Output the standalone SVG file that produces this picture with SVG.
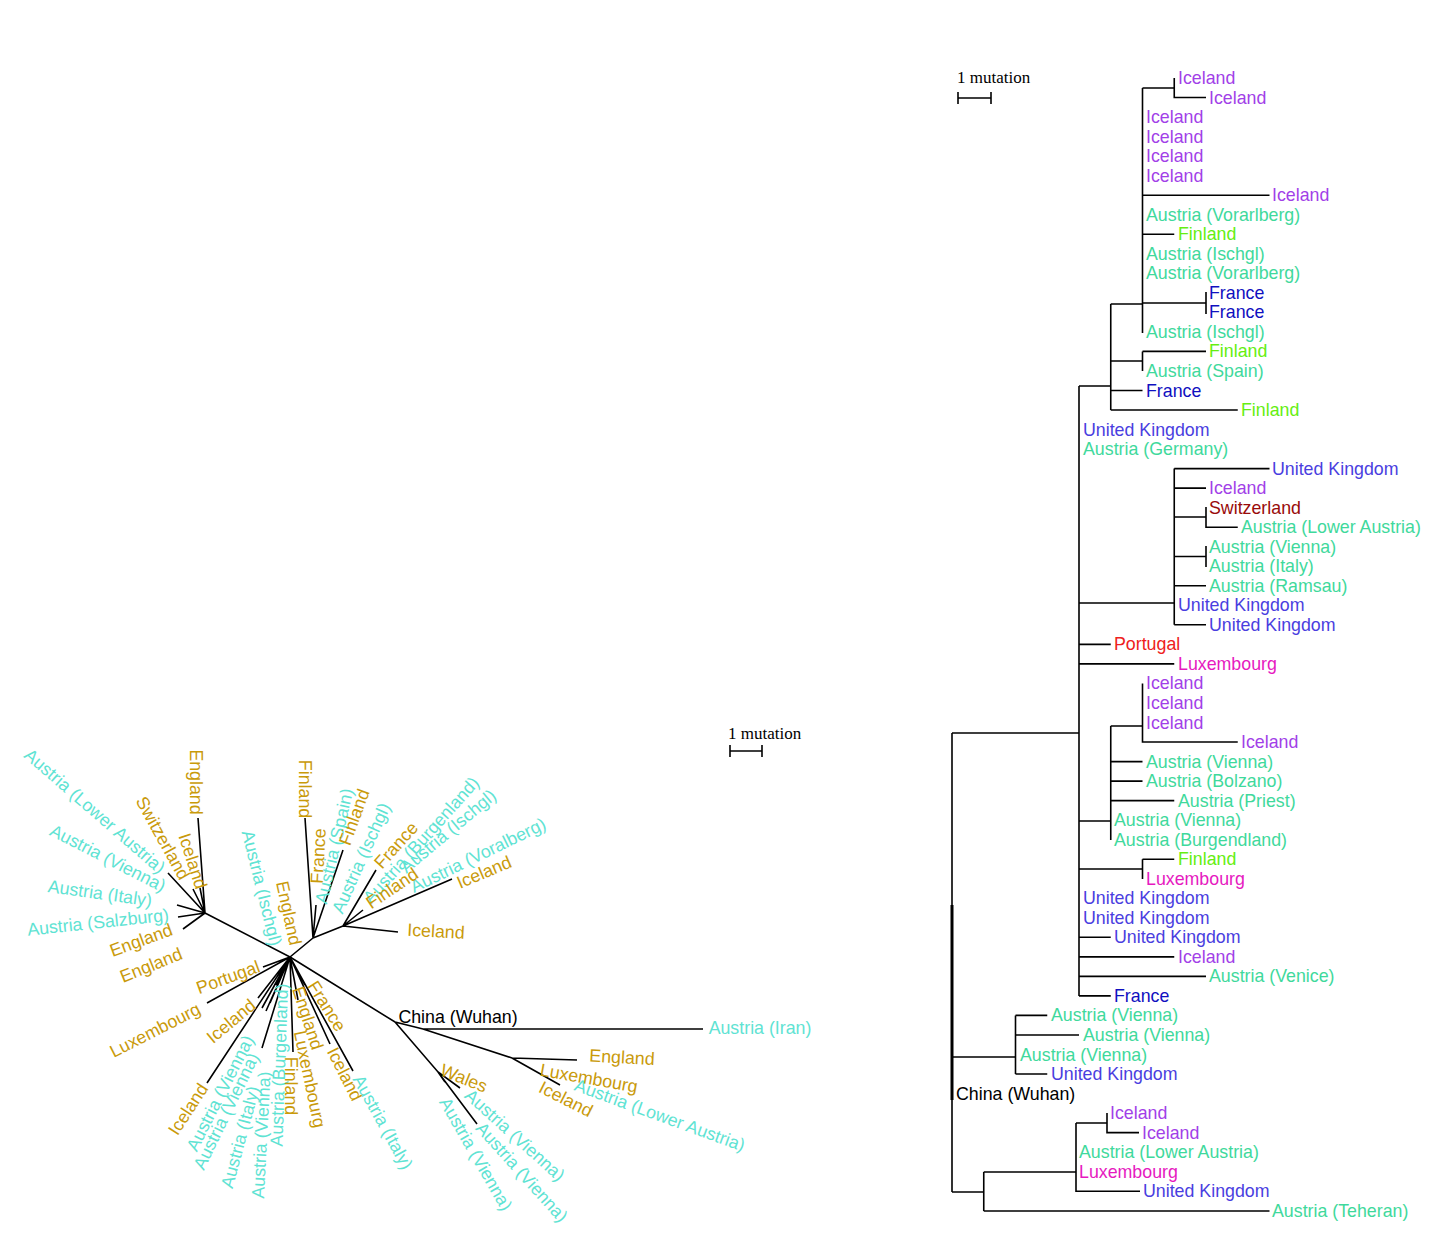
<svg xmlns="http://www.w3.org/2000/svg" width="1440" height="1250" viewBox="0 0 1440 1250">
<style>
text{font-family:"Liberation Sans",Arial,sans-serif;font-size:17.8px}
.sc{font-family:"Liberation Serif","Times New Roman",serif;font-size:17px;fill:#000}
.g{fill:#c99a0a}.c{fill:#5fe3d3}.k{fill:#000}
.pu{fill:#a23fe8}.te{fill:#3fd99c}.fi{fill:#66ee11}.fr{fill:#1010c0}.uk{fill:#4a3ee0}.sw{fill:#990a0a}.po{fill:#ee2020}.lu{fill:#e619c0}
.ln{stroke:#000;stroke-width:1.6;fill:none}
.ul text{text-anchor:middle}
</style>
<rect width="1440" height="1250" fill="#fff"/>
<g id="scale-left">
<text class="sc" x="728" y="739">1 mutation</text>
<path class="ln" d="M730,751H762M730,745V757M762,745V757"/>
</g>
<g id="scale-right">
<text class="sc" x="957" y="83">1 mutation</text>
<path class="ln" d="M958,98H991M958,92V104M991,92V104"/>
</g>
<g id="connectors-left">
<path class="ln" d="M290,957L205,913M205,913L198,818M205,913L200,888M205,913L168,873M205,913L193,889M205,913L177,905M205,913L178,917M205,913L183,929"/>
<path class="ln" d="M290,957L313,938M313,938L305,818M313,938L316,905M313,938L343,850M313,938L343,926M343,926L376,870M343,926L363,910M343,926L452,879M343,926L398,932"/>
<path class="ln" d="M290,957L263,967M290,957L207,1003M290,957L258,998M290,957L207,1083M290,957L266,1011M290,957L262,1008M290,957L262,1048M290,957L270,1003M290,957L276,985M290,957L293,1052M290,957L305,985M290,957L298,1000M290,957L330,1044M290,957L353,1071"/>
<path class="ln" d="M290,957L395,1022L423,1029H703M423,1029L512,1058L577,1060M512,1058L560,1085M395,1022L438,1072L460,1088M438,1072L477,1124M438,1072L445,1082"/>
</g>
<g id="labels-left" class="ul">
<text class="c" dy="0.35em" transform="translate(95,811) rotate(41)">Austria (Lower Austria)</text>
<text class="g" dy="0.35em" transform="translate(163,838) rotate(61)">Switzerland</text>
<text class="g" dy="0.35em" transform="translate(196,782) rotate(90)">England</text>
<text class="g" dy="0.35em" transform="translate(193,861) rotate(72)">Iceland</text>
<text class="c" dy="0.35em" transform="translate(108,858) rotate(27)">Austria (Vienna)</text>
<text class="c" dy="0.35em" transform="translate(100,893) rotate(8)">Austria (Italy)</text>
<text class="c" dy="0.35em" transform="translate(98,922) rotate(-6)">Austria (Salzburg)</text>
<text class="g" dy="0.35em" transform="translate(141,940) rotate(-20)">England</text>
<text class="g" dy="0.35em" transform="translate(151,965) rotate(-22)">England</text>
<text class="c" dy="0.35em" transform="translate(262,888) rotate(76)">Austria (Ischgl)</text>
<text class="g" dy="0.35em" transform="translate(289,913) rotate(78)">England</text>
<text class="g" dy="0.35em" transform="translate(305,789) rotate(90)">Finland</text>
<text class="g" dy="0.35em" transform="translate(318,856) rotate(-87)">France</text>
<text class="c" dy="0.35em" transform="translate(334,846) rotate(-77)">Austria (Spain)</text>
<text class="g" dy="0.35em" transform="translate(354,817) rotate(-70)">Finland</text>
<text class="c" dy="0.35em" transform="translate(361,858) rotate(-66)">Austria (Ischgl)</text>
<text class="g" dy="0.35em" transform="translate(396,845) rotate(-48)">France</text>
<text class="c" dy="0.35em" transform="translate(421,840) rotate(-48)">Austria (Burgenland)</text>
<text class="c" dy="0.35em" transform="translate(448,831) rotate(-40)">Austria (Ischgl)</text>
<text class="c" dy="0.35em" transform="translate(478,855) rotate(-26)">Austria (Voralberg)</text>
<text class="g" dy="0.35em" transform="translate(392,888) rotate(-34)">Finland</text>
<text class="g" dy="0.35em" transform="translate(484,872) rotate(-23)">Iceland</text>
<text class="g" dy="0.35em" transform="translate(436,931) rotate(3)">Iceland</text>
<text class="g" dy="0.35em" transform="translate(228,977) rotate(-20)">Portugal</text>
<text class="g" dy="0.35em" transform="translate(155,1030) rotate(-27)">Luxembourg</text>
<text class="g" dy="0.35em" transform="translate(231,1021) rotate(-40)">Iceland</text>
<text class="g" dy="0.35em" transform="translate(188,1109) rotate(-57)">Iceland</text>
<text class="c" dy="0.35em" transform="translate(220,1093) rotate(-63)">Austria (Vienna)</text>
<text class="c" dy="0.35em" transform="translate(226,1111) rotate(-64)">Austria (Vienna)</text>
<text class="c" dy="0.35em" transform="translate(240,1137) rotate(-75)">Austria (Italy)</text>
<text class="c" dy="0.35em" transform="translate(261,1135) rotate(-87)">Austria (Vienna)</text>
<text class="c" dy="0.35em" transform="translate(279,1065) rotate(-88)">Austria (Burgenland)</text>
<text class="g" dy="0.35em" transform="translate(291,1086) rotate(90)">Finland</text>
<text class="g" dy="0.35em" transform="translate(308,1018) rotate(72)">England</text>
<text class="g" dy="0.35em" transform="translate(310,1079) rotate(78)">Luxembourg</text>
<text class="g" dy="0.35em" transform="translate(327,1006) rotate(58)">France</text>
<text class="g" dy="0.35em" transform="translate(345,1074) rotate(63)">Iceland</text>
<text class="c" dy="0.35em" transform="translate(383,1122) rotate(61)">Austria (Italy)</text>
<text class="k" dy="0.35em" transform="translate(458,1017)">China (Wuhan)</text>
<text class="c" dy="0.35em" transform="translate(760,1028)">Austria (Iran)</text>
<text class="g" dy="0.35em" transform="translate(622,1057) rotate(3)">England</text>
<text class="g" dy="0.35em" transform="translate(589,1078) rotate(10)">Luxembourg</text>
<text class="g" dy="0.35em" transform="translate(566,1099) rotate(27)">Iceland</text>
<text class="c" dy="0.35em" transform="translate(660,1115) rotate(20)">Austria (Lower Austria)</text>
<text class="g" dy="0.35em" transform="translate(464,1078) rotate(22)">Wales</text>
<text class="c" dy="0.35em" transform="translate(515,1135) rotate(42)">Austria (Vienna)</text>
<text class="c" dy="0.35em" transform="translate(522,1172) rotate(48)">Austria (Vienna)</text>
<text class="c" dy="0.35em" transform="translate(476,1154) rotate(60)">Austria (Vienna)</text>
</g>
<g id="connectors-right">
<path class="ln" d="M952,733V1192M952,733H1079M952,1057H1015.5M952,1192H983.75"/>
<path d="M952,905V1100" stroke="#000" stroke-width="3"/>
<path class="ln" d="M983.75,1172V1211M983.75,1172H1076M983.75,1211H1269.5M1076,1123V1192M1076,1123H1107M1076,1191.2H1140M1107,1113V1132.6H1139"/>
<path class="ln" d="M1015.5,1015.4V1074M1015.5,1015.4H1047.25M1015.5,1035H1079M1015.5,1074H1047.25"/>
<path class="ln" d="M1079,386V996M1079,386H1110.75M1079,603H1174.25M1079,644.4H1110.75M1079,663.9H1174.25M1079,821H1110.75M1079,869H1142.5M1079,937.3H1110.75M1079,956.9H1174.25M1079,976.4H1206M1079,995.9H1110.75"/>
<path class="ln" d="M1110.75,304V410M1110.75,304H1142.5M1110.75,361H1142.5M1110.75,390.5H1142.5M1110.75,410H1237.75"/>
<path class="ln" d="M1142.5,88V333M1142.5,88H1174.25M1142.5,195.2H1269.5M1142.5,234.2H1174.25M1142.5,303H1206M1174.25,78V97.5H1206M1206,292V314"/>
<path class="ln" d="M1142.5,351.4V371M1142.5,351.4H1206"/>
<path class="ln" d="M1174.25,468.6V624.8M1174.25,468.6H1269.5M1174.25,488.1H1206M1174.25,517H1206M1174.25,556.5H1206M1174.25,585.8H1206M1174.25,624.8H1206M1206,507V527.2H1237.75M1206,546V567"/>
<path class="ln" d="M1110.75,726V840M1110.75,726H1142.5M1110.75,761.6H1142.5M1110.75,781.1H1142.5M1110.75,800.6H1174.25M1142.5,683.4V742H1237.75"/>
<path class="ln" d="M1142.5,859.2V879M1142.5,859.2H1174.25"/>
</g>
<g id="labels-right">
<text class="pu" x="1178" y="84">Iceland</text>
<text class="pu" x="1209" y="103.5">Iceland</text>
<text class="pu" x="1146" y="123.1">Iceland</text>
<text class="pu" x="1146" y="142.6">Iceland</text>
<text class="pu" x="1146" y="162.1">Iceland</text>
<text class="pu" x="1146" y="181.7">Iceland</text>
<text class="pu" x="1272" y="201.2">Iceland</text>
<text class="te" x="1146" y="220.7">Austria (Vorarlberg)</text>
<text class="fi" x="1178" y="240.2">Finland</text>
<text class="te" x="1146" y="259.8">Austria (Ischgl)</text>
<text class="te" x="1146" y="279.3">Austria (Vorarlberg)</text>
<text class="fr" x="1209" y="298.8">France</text>
<text class="fr" x="1209" y="318.4">France</text>
<text class="te" x="1146" y="337.9">Austria (Ischgl)</text>
<text class="fi" x="1209" y="357.4">Finland</text>
<text class="te" x="1146" y="377">Austria (Spain)</text>
<text class="fr" x="1146" y="396.5">France</text>
<text class="fi" x="1241" y="416">Finland</text>
<text class="uk" x="1083" y="435.5">United Kingdom</text>
<text class="te" x="1083" y="455.1">Austria (Germany)</text>
<text class="uk" x="1272" y="474.6">United Kingdom</text>
<text class="pu" x="1209" y="494.1">Iceland</text>
<text class="sw" x="1209" y="513.7">Switzerland</text>
<text class="te" x="1241" y="533.2">Austria (Lower Austria)</text>
<text class="te" x="1209" y="552.7">Austria (Vienna)</text>
<text class="te" x="1209" y="572.3">Austria (Italy)</text>
<text class="te" x="1209" y="591.8">Austria (Ramsau)</text>
<text class="uk" x="1178" y="611.3">United Kingdom</text>
<text class="uk" x="1209" y="630.8">United Kingdom</text>
<text class="po" x="1114" y="650.4">Portugal</text>
<text class="lu" x="1178" y="669.9">Luxembourg</text>
<text class="pu" x="1146" y="689.4">Iceland</text>
<text class="pu" x="1146" y="709">Iceland</text>
<text class="pu" x="1146" y="728.5">Iceland</text>
<text class="pu" x="1241" y="748">Iceland</text>
<text class="te" x="1146" y="767.6">Austria (Vienna)</text>
<text class="te" x="1146" y="787.1">Austria (Bolzano)</text>
<text class="te" x="1178" y="806.6">Austria (Priest)</text>
<text class="te" x="1114" y="826.1">Austria (Vienna)</text>
<text class="te" x="1114" y="845.7">Austria (Burgendland)</text>
<text class="fi" x="1178" y="865.2">Finland</text>
<text class="lu" x="1146" y="884.7">Luxembourg</text>
<text class="uk" x="1083" y="904.3">United Kingdom</text>
<text class="uk" x="1083" y="923.8">United Kingdom</text>
<text class="uk" x="1114" y="943.3">United Kingdom</text>
<text class="pu" x="1178" y="962.9">Iceland</text>
<text class="te" x="1209" y="982.4">Austria (Venice)</text>
<text class="fr" x="1114" y="1001.9">France</text>
<text class="te" x="1051" y="1021.4">Austria (Vienna)</text>
<text class="te" x="1083" y="1041">Austria (Vienna)</text>
<text class="te" x="1020" y="1060.5">Austria (Vienna)</text>
<text class="uk" x="1051" y="1080">United Kingdom</text>
<text class="k" x="956" y="1099.6">China (Wuhan)</text>
<text class="pu" x="1110" y="1119.1">Iceland</text>
<text class="pu" x="1142" y="1138.6">Iceland</text>
<text class="te" x="1079" y="1158.2">Austria (Lower Austria)</text>
<text class="lu" x="1079" y="1177.7">Luxembourg</text>
<text class="uk" x="1143" y="1197.2">United Kingdom</text>
<text class="te" x="1272" y="1216.7">Austria (Teheran)</text>
</g>
</svg>
